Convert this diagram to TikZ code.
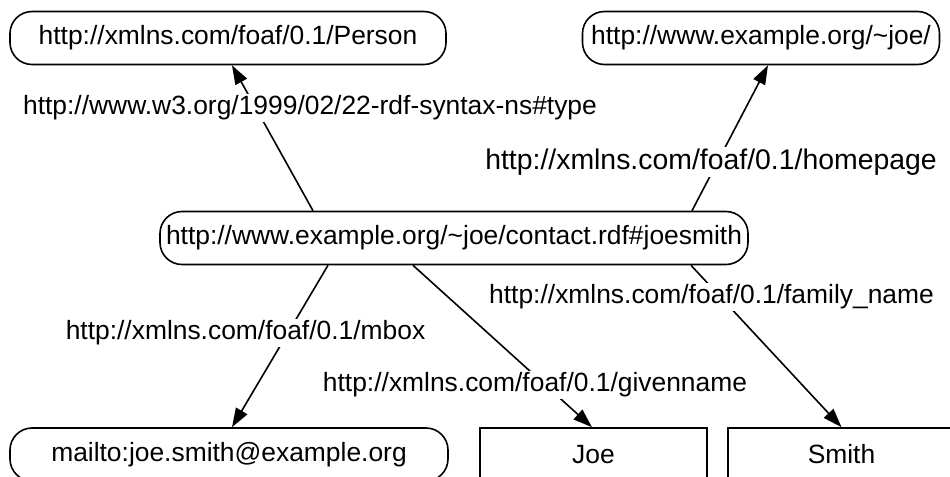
\documentclass[tikz,border=0pt]{standalone}
\usepackage{fontspec}
\setmainfont{Liberation Sans}
\usetikzlibrary{arrows.meta}

\begin{document}
\begin{tikzpicture}[x=0.5pt, y=-0.5pt, line width=.8pt,
    every node/.style={font=\fontsize{13.2pt}{15pt}\selectfont},
    uri/.style={draw, rounded corners=11pt, minimum height=26.5pt, inner sep=0pt},
    literal/.style={draw, minimum height=26.5pt, inner sep=0pt},
    prop/.style={fill=white, inner sep=1pt},
    rel/.style={-{Triangle[length=9.5pt,width=6.5pt]}}]
    \path[use as bounding box, clip] (0,0) rectangle (950,477);
    % recursos
    \node[uri, minimum width=218pt] (person) at (228,38) {http://xmlns.com/foaf/0.1/Person};
    \node[uri, minimum width=178.5pt] (home) at (761,38) {http://www.example.org/\textasciitilde joe/};
    \node[uri, minimum width=294pt] (contact) at (454,238) {http://www.example.org/\textasciitilde joe/contact.rdf\#joesmith};
    \node[uri, minimum width=219pt] (mailto) at (229,454.5) {mailto:joe.smith@example.org};
    % literales
    \node[literal, minimum width=113.5pt] (given) at (593.5,454.5) {Joe};
    \node[literal, minimum width=113.5pt] (family) at (841.5,454.5) {Smith};
    % aristas
    \draw[rel] ([xshift=-70.5pt]contact.north) -- ([xshift=2pt]person.south); % type
    \draw[rel] ([xshift=119pt]contact.north) -- ([xshift=3.5pt]home.south); % homepage
    \draw[rel] ([xshift=-63pt]contact.south) -- ([xshift=1.5pt]mailto.north); % mbox
    \draw[rel] ([xshift=-20.5pt]contact.south) -- ([xshift=-.75pt]given.north); % givenname
    \draw[rel] ([xshift=118.5pt]contact.south) -- (family.north); % family_name
    % etiquetas
    \node[prop] (typelbl) at (310,108) {http://www.w3.org/1999/02/22-rdf-syntax-ns\#type};
    \node[prop, font=\fontsize{14.2pt}{16pt}\selectfont] (homelbl) at (711,162) {http://xmlns.com/foaf/0.1/homepage};
    \node[prop] (familylbl) at (711.5,297) {http://xmlns.com/foaf/0.1/family\_name};
    \node[prop] (mboxlbl) at (245.5,333) {http://xmlns.com/foaf/0.1/mbox};
    \node[prop] (givenlbl) at (535,385) {http://xmlns.com/foaf/0.1/givenname};
\end{tikzpicture}
\end{document}
